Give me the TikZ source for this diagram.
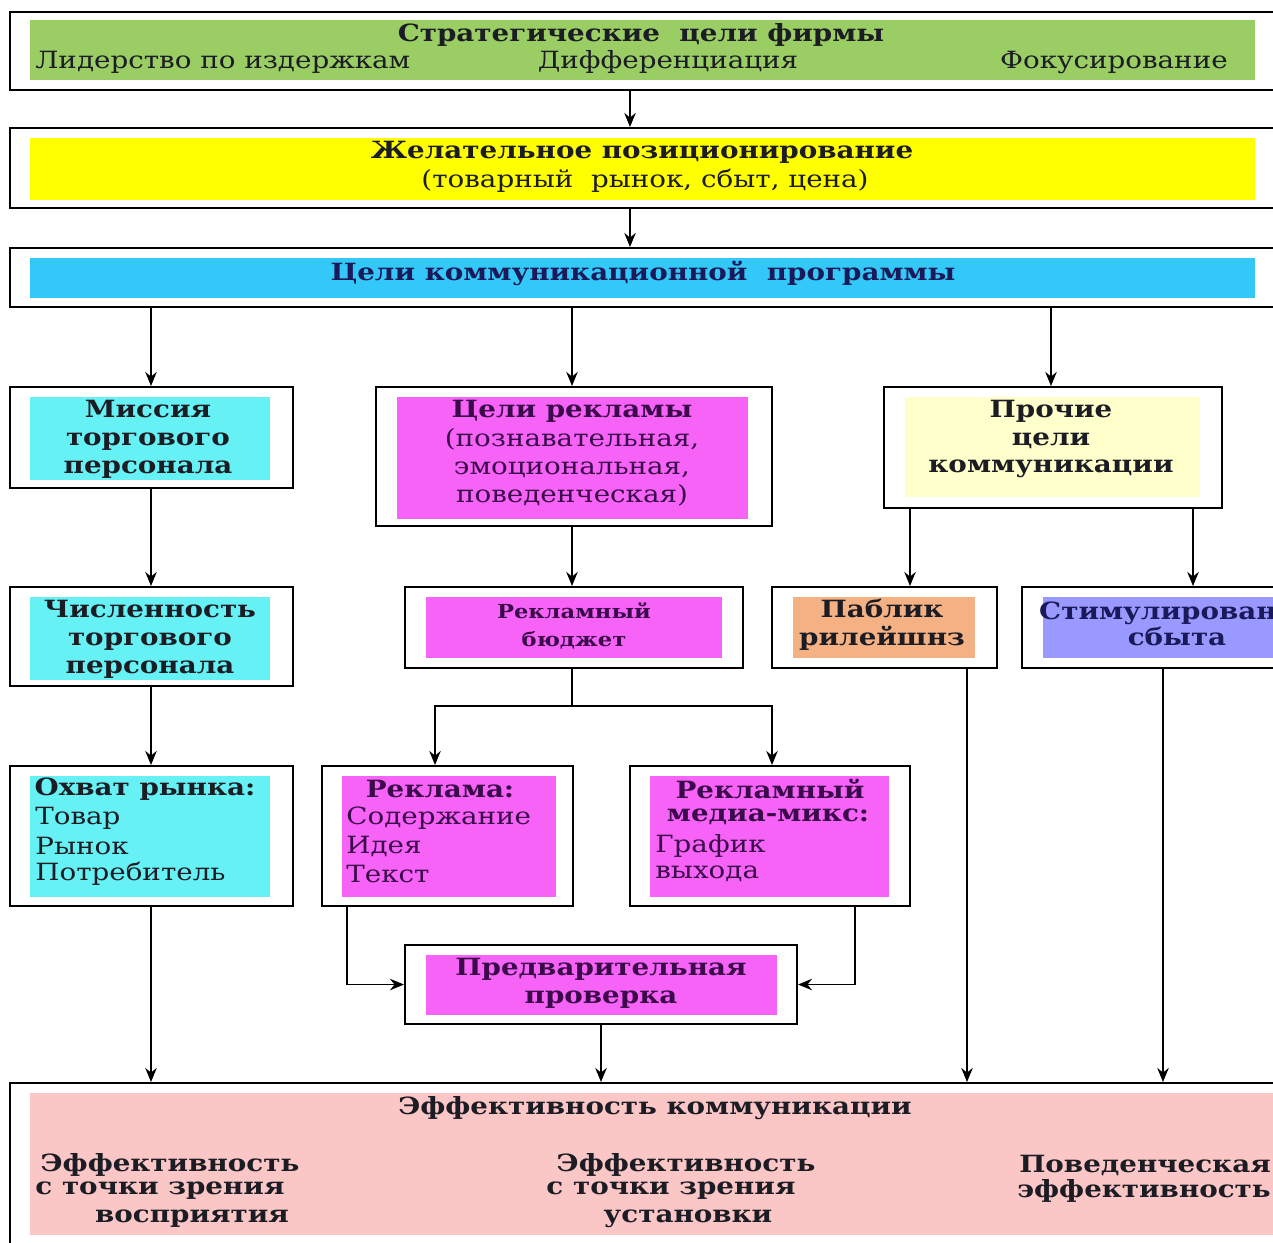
\documentclass[tikz,border=0pt]{standalone}
\usepackage{fontspec}
\setmainfont{DejaVu Serif}[FakeStretch=1.17]
\usetikzlibrary{fit,calc,arrows.meta}
\definecolor{cgreen}{HTML}{9ACD64}
\definecolor{cyellow}{HTML}{FFFF00}
\definecolor{cblue}{HTML}{33C8F8}
\definecolor{ccyan}{HTML}{66F2F5}
\definecolor{cmag}{HTML}{F763F7}
\definecolor{clyel}{HTML}{FFFFCC}
\definecolor{corange}{HTML}{F4B183}
\definecolor{clav}{HTML}{9999FF}
\definecolor{cpink}{HTML}{FBC6C6}
\definecolor{tdark}{HTML}{1C1C24}
\definecolor{tnavy}{HTML}{1A1A5A}
\definecolor{tpurp}{HTML}{3A0A4A}
\begin{document}
\begin{tikzpicture}[x=0.02cm,y=-0.02cm,
  obox/.style={draw=black,line width=1.1pt,fill=white,inner sep=0pt},
  txt/.style={inner sep=0pt,align=center,text=tdark,font=\fontsize{13.5}{15.9}\selectfont},
  btxt/.style={txt,font=\fontsize{13.5}{15.9}\selectfont\bfseries},
  arr/.style={line width=1.1pt,-{Stealth[length=8pt,width=6.5pt]}},
  ln/.style={line width=1.1pt}]
\useasboundingbox (0,0) rectangle (1273,1242);
\clip (0,0) rectangle (1273,1242);
\fill[white] (0,0) rectangle (1273,1242);
% x positions of connectors
\coordinate (c151) at (151,0);
\coordinate (c572) at (572,0);
\coordinate (c630) at (630,0);
\coordinate (c1051) at (1051,0);
\coordinate (c910) at (910,0);
\coordinate (c1193) at (1193,0);
\coordinate (c435) at (435,0);
\coordinate (c772) at (772,0);
\coordinate (c347) at (347,0);
\coordinate (c855) at (855,0);
\coordinate (c967) at (967,0);
\coordinate (c1163) at (1163,0);
% ---- row 1
\node[obox,fit={(10,12) (1300,90)}] (b1) {};
\fill[cgreen] (30,20) rectangle (1255,80);
\node[btxt] (t1) at (641,35) {Стратегические\ \ цели фирмы};
\node[txt,anchor=west] (t1a) at (35,62) {Лидерство по издержкам};
\node[txt] (t1b) at (668,62) {Дифференциация};
\node[txt,anchor=east] (t1c) at (1228,62) {Фокусирование};
% ---- row 2
\node[obox,fit={(10,128) (1300,208)}] (b2) {};
\fill[cyellow] (30,138) rectangle (1255,200);
\node[btxt] (t2) at (642,152) {Желательное позиционирование};
\node[txt] (t2a) at (645,181) {(товарный\ \ рынок, сбыт, цена)};
% ---- row 3
\node[obox,fit={(10,248) (1300,307)}] (b3) {};
\fill[cblue] (30,258) rectangle (1255,298);
\node[btxt,text=tnavy] (t3) at (643,273) {Цели коммуникационной\ \ программы};
% ---- row 4
\node[obox,fit={(10,387) (293,488)}] (mis) {};
\fill[ccyan] (30,397) rectangle (270,480);
\node[btxt] (tmis) at (148,439) {Миссия\\торгового\\персонала};
\node[obox,fit={(376,387) (772,526)}] (rek) {};
\fill[cmag] (397,397) rectangle (748,519);
\node[btxt,text=tpurp] (trek) at (572,411) {Цели рекламы};
\node[txt,text=tpurp] (trek2) at (572,467) {(познавательная,\\эмоциональная,\\поведенческая)};
\node[obox,fit={(884,387) (1222,508)}] (pro) {};
\fill[clyel] (905,397) rectangle (1200,497);
\node[btxt] (tpro) at (1051,439) {Прочие\\цели\\коммуникации};
% ---- row 5
\node[obox,fit={(10,587) (293,686)}] (chis) {};
\fill[ccyan] (30,597) rectangle (270,680);
\node[btxt] (tchis) at (150,639) {Численность\\торгового\\персонала};
\node[obox,fit={(405,587) (743,668)}] (bud) {};
\fill[cmag] (426,597) rectangle (722,658);
\node[btxt,text=tpurp,font=\fontsize{11}{15.9}\selectfont\bfseries] (tbud) at (574,626) {Рекламный\\бюджет};
\node[obox,fit={(772,587) (997,668)}] (pub) {};
\fill[corange] (793,597) rectangle (975,658);
\node[btxt] (tpub) at (882,625) {Паблик\\рилейшнз};
\node[obox,fit={(1022,587) (1320,668)}] (stim) {};
\fill[clav] (1043,597) rectangle (1320,658);
\node[btxt,text=tnavy,font=\fontsize{13.5}{14.8}\selectfont\bfseries] (tstim) at (1177,624) {Стимулирование\\сбыта};
% ---- row 6
\node[obox,fit={(10,766) (293,906)}] (ohv) {};
\fill[ccyan] (30,776) rectangle (270,897);
\node[btxt] (tohv) at (145,789) {Охват рынка:};
\node[txt,anchor=west] (tohv1) at (35,818) {Товар};
\node[txt,anchor=west] (tohv2) at (35,846) {Рынок};
\node[txt,anchor=west] (tohv3) at (35,874) {Потребитель};
\node[obox,fit={(322,766) (573,906)}] (rk) {};
\fill[cmag] (342,776) rectangle (556,897);
\node[btxt,text=tpurp] (trk) at (440,789) {Реклама:};
\node[txt,text=tpurp,anchor=west] (trk1) at (346,818) {Содержание};
\node[txt,text=tpurp,anchor=west] (trk2) at (346,846) {Идея};
\node[txt,text=tpurp,anchor=west] (trk3) at (346,874) {Текст};
\node[obox,fit={(630,766) (910,906)}] (mm) {};
\fill[cmag] (650,776) rectangle (889,897);
\node[btxt,text=tpurp] (tmm) at (770,789) {Рекламный};
\node[btxt,text=tpurp] (tmm1) at (768,817) {медиа-микс:};
\node[txt,text=tpurp,anchor=west] (tmm2) at (655,846) {График};
\node[txt,text=tpurp,anchor=west] (tmm3) at (655,874) {выхода};
% ---- row 7
\node[obox,fit={(405,945) (797,1024)}] (pre) {};
\fill[cmag] (426,955) rectangle (777,1015);
\node[btxt,text=tpurp] (tpre) at (601,983) {Предварительная\\проверка};
% ---- bottom
\node[obox,fit={(10,1083) (1320,1300)}] (eff) {};
\fill[cpink] (30,1093) rectangle (1320,1235);
\node[btxt] (teff) at (655,1108) {Эффективность коммуникации};
\node[btxt] (te1) at (170,1165) {Эффективность};
\node[btxt] (te1b) at (160,1191) {с точки зрения};
\node[btxt] (te1c) at (192,1219) {восприятия};
\node[btxt] (te2) at (686,1165) {Эффективность};
\node[btxt] (te2b) at (671,1191) {с точки зрения};
\node[btxt] (te2c) at (688,1219) {установки};
\node[btxt] (te3) at (1145,1165) {Поведенческая};
\node[btxt] (te3b) at (1144,1191) {эффективность};
% ---- connectors
\draw[arr] (b1.south -| c630) -- (b2.north -| c630);
\draw[arr] (b2.south -| c630) -- (b3.north -| c630);
\draw[arr] (b3.south -| c151) -- (mis.north -| c151);
\draw[arr] (b3.south -| c572) -- (rek.north -| c572);
\draw[arr] (b3.south -| c1051) -- (pro.north -| c1051);
\draw[arr] (mis.south -| c151) -- (chis.north -| c151);
\draw[arr] (rek.south -| c572) -- (bud.north -| c572);
\draw[arr] (pro.south -| c910) -- (pub.north -| c910);
\draw[arr] (pro.south -| c1193) -- (stim.north -| c1193);
\draw[arr] (chis.south -| c151) -- (ohv.north -| c151);
\coordinate (jn) at (572,706);
\draw[ln] (bud.south -| jn) -- (jn);
\draw[arr] (jn) -| (rk.north -| c435);
\draw[arr] (jn) -| (mm.north -| c772);
\draw[arr] (rk.south -| c347) |- (pre.west);
\draw[arr] (mm.south -| c855) |- (pre.east);
\draw[arr] (ohv.south -| c151) -- (eff.north -| c151);
\draw[arr] (pre.south) -- (eff.north -| pre.south);
\draw[arr] (pub.south -| c967) -- (eff.north -| c967);
\draw[arr] (stim.south -| c1163) -- (eff.north -| c1163);
\end{tikzpicture}
\end{document}
